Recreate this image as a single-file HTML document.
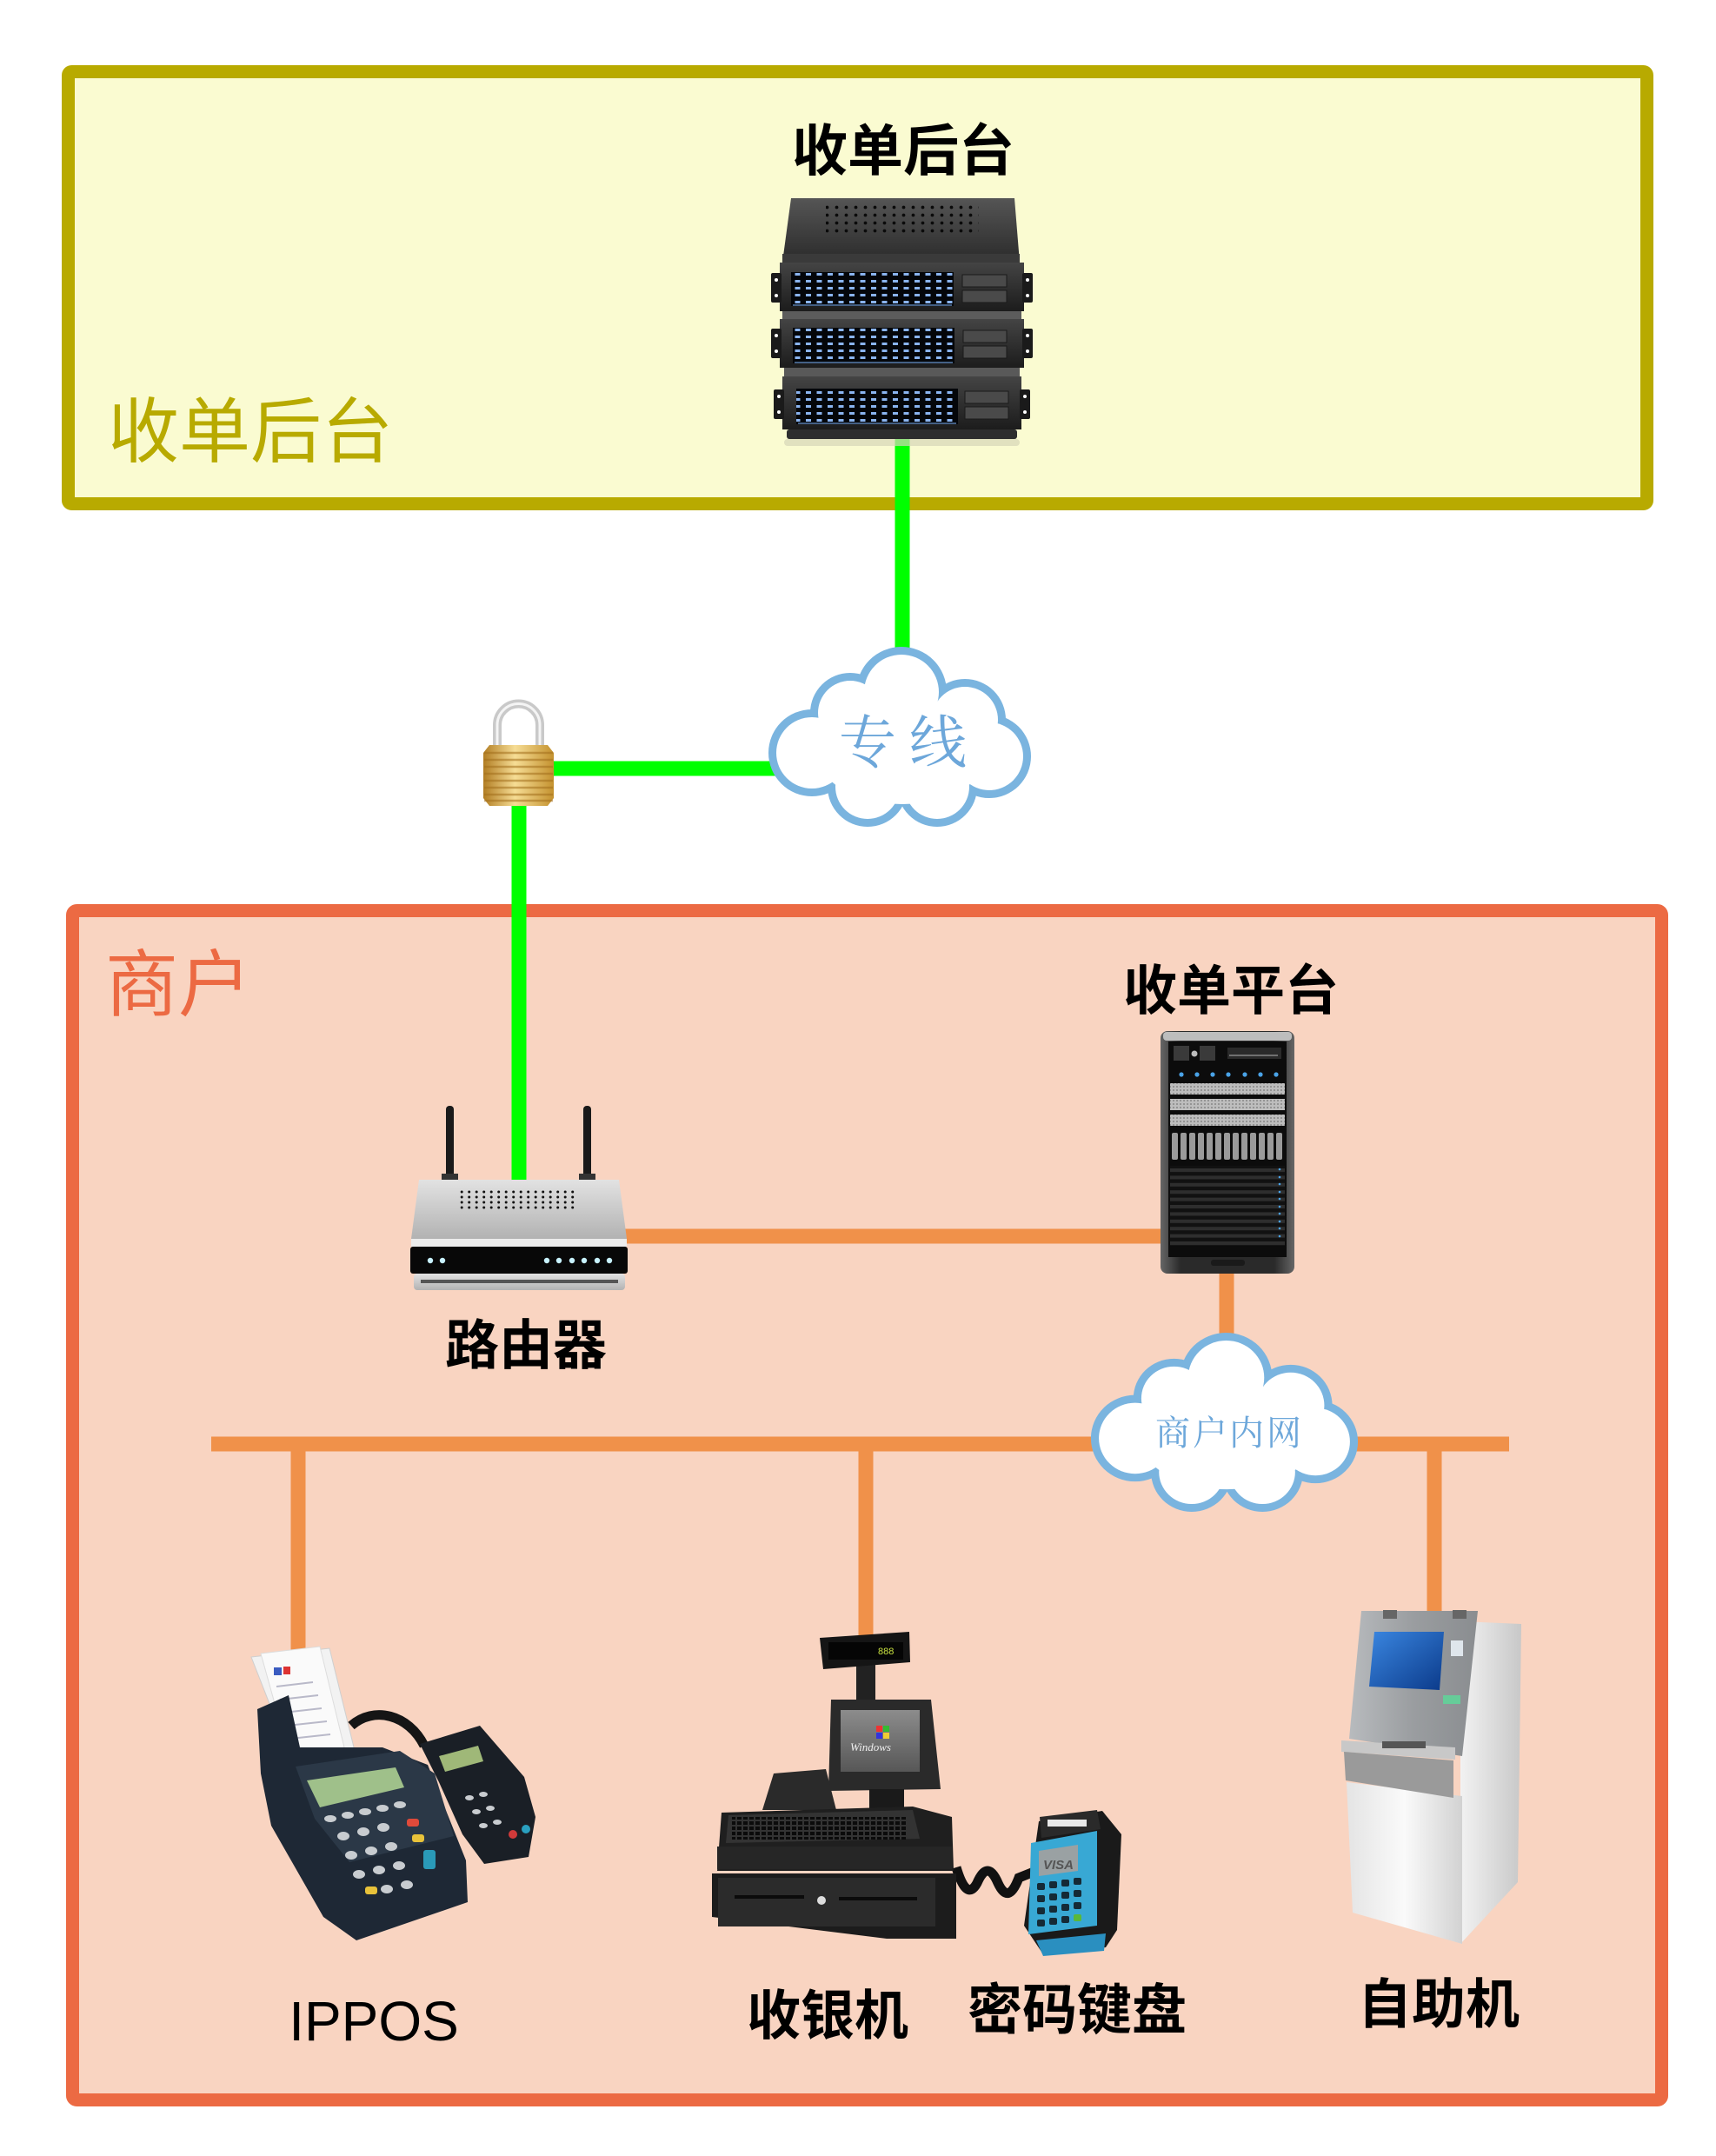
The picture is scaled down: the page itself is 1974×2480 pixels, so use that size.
<!DOCTYPE html>
<html><head><meta charset="utf-8">
<style>html,body{margin:0;padding:0;background:#fff}svg{display:block}</style>
</head><body>
<svg width="1974" height="2480" viewBox="0 0 1974 2480" xmlns="http://www.w3.org/2000/svg">
<defs>
  <linearGradient id="gTop" x1="0" y1="0" x2="0" y2="1"><stop offset="0" stop-color="#555"/><stop offset="1" stop-color="#2a2a2a"/></linearGradient>
  <linearGradient id="gUnit" x1="0" y1="0" x2="0" y2="1"><stop offset="0" stop-color="#444"/><stop offset="1" stop-color="#1c1c1c"/></linearGradient>
  <linearGradient id="gSil" x1="0" y1="0" x2="0" y2="1"><stop offset="0" stop-color="#e2e2e2"/><stop offset="1" stop-color="#b2b2b2"/></linearGradient>
  <linearGradient id="gTower" x1="0" y1="0" x2="1" y2="0"><stop offset="0" stop-color="#666"/><stop offset=".15" stop-color="#2a2a2a"/><stop offset=".85" stop-color="#2a2a2a"/><stop offset="1" stop-color="#666"/></linearGradient>
  <linearGradient id="gGold" x1="0" y1="0" x2="1" y2="0"><stop offset="0" stop-color="#b27e24"/><stop offset=".45" stop-color="#f6dd95"/><stop offset="1" stop-color="#c4922f"/></linearGradient>
  <linearGradient id="gAtmF" x1="0" y1="0" x2="1" y2="0"><stop offset="0" stop-color="#e4e4e4"/><stop offset=".5" stop-color="#fafafa"/><stop offset="1" stop-color="#d2d2d2"/></linearGradient>
  <linearGradient id="gAtmS" x1="0" y1="0" x2="1" y2="0"><stop offset="0" stop-color="#f2f2f2"/><stop offset="1" stop-color="#c8c8c8"/></linearGradient>
  <linearGradient id="gAtmH" x1="0" y1="0" x2="1" y2="0"><stop offset="0" stop-color="#b8bbbe"/><stop offset=".5" stop-color="#9a9da0"/><stop offset="1" stop-color="#8a8d90"/></linearGradient>
  <linearGradient id="gScr" x1="0" y1="0" x2="1" y2="1"><stop offset="0" stop-color="#3a86e0"/><stop offset="1" stop-color="#0b3a8a"/></linearGradient>
  <linearGradient id="gMon" x1="0" y1="0" x2="0" y2="1"><stop offset="0" stop-color="#8c8c8c"/><stop offset="1" stop-color="#575757"/></linearGradient>
  <pattern id="bd" width="12.5" height="8" patternUnits="userSpaceOnUse"><rect x="2" y="2" width="6" height="3" fill="#8ab4f0"/></pattern>
  <pattern id="gd" width="11" height="9" patternUnits="userSpaceOnUse"><circle cx="5.5" cy="4.5" r="1.9" fill="#0a0a0a"/></pattern>
  <pattern id="rg" width="8.5" height="6" patternUnits="userSpaceOnUse"><circle cx="4.2" cy="3" r="1.5" fill="#111"/></pattern>
  <pattern id="kp" width="7" height="6" patternUnits="userSpaceOnUse"><rect x="1" y="1" width="5" height="4" fill="#0b0b0b"/></pattern>
  <pattern id="slat" width="10" height="8.4" patternUnits="userSpaceOnUse"><rect x="0" y="0" width="10" height="4.2" fill="#2e2e2e"/><rect x="0" y="4.2" width="10" height="4.2" fill="#111"/></pattern>
  <pattern id="sbar" width="4" height="4" patternUnits="userSpaceOnUse"><rect width="4" height="4" fill="#bdbdbd"/><circle cx="2" cy="2" r="0.9" fill="#777"/></pattern>
  <g id="cloudShape">
    <g fill="#7AB4DF">
      <circle cx="149" cy="48" r="52"/><circle cx="90" cy="72" r="46"/><circle cx="222" cy="80" r="47"/>
      <circle cx="46" cy="118" r="50"/><circle cx="250" cy="122" r="48"/><circle cx="110" cy="157" r="46"/><circle cx="190" cy="157" r="46"/>
    </g>
    <g fill="#fff">
      <circle cx="149" cy="48" r="43"/><circle cx="90" cy="72" r="37"/><circle cx="222" cy="80" r="38"/>
      <circle cx="46" cy="118" r="41"/><circle cx="250" cy="122" r="39"/><circle cx="110" cy="157" r="37"/><circle cx="190" cy="157" r="37"/>
      <ellipse cx="150" cy="115" rx="100" ry="62"/>
    </g>
  </g>
</defs>

<!-- containers -->
<rect x="78.5" y="82.5" width="1816" height="497" rx="4" fill="#FAFBD1" stroke="#B8AA00" stroke-width="15"/>
<rect x="83.5" y="1047.5" width="1828" height="1368" rx="5" fill="#F9D4C1" stroke="#EC6A43" stroke-width="15"/>

<!-- green links -->
<g stroke="#00FF00" stroke-width="17" fill="none">
  <line x1="1038" y1="498" x2="1038" y2="770"/>
  <line x1="628" y1="884" x2="900" y2="884"/>
  <line x1="597" y1="915" x2="597" y2="1362"/>
</g>
<!-- orange links -->
<g stroke="#F0914A" stroke-width="17" fill="none">
  <line x1="715" y1="1422" x2="1340" y2="1422"/>
  <line x1="1411" y1="1460" x2="1411" y2="1550"/>
  <line x1="243" y1="1661" x2="1736" y2="1661"/>
  <line x1="343" y1="1661" x2="343" y2="1905"/>
  <line x1="996" y1="1661" x2="996" y2="1885"/>
  <line x1="1650" y1="1661" x2="1650" y2="1858"/>
</g>

<!-- server stack -->
<g>
  <polygon points="910,228 1167,228 1173,302 900,302" fill="url(#gTop)"/>
  <rect x="950" y="236" width="176" height="36" fill="url(#gd)"/>
  <rect x="900" y="292" width="273" height="10" fill="#3a3a3a"/>
  <rect x="897" y="302" width="281" height="56" fill="url(#gUnit)"/>
  <rect x="887" y="314" width="12" height="34" rx="2" fill="#1a1a1a"/><circle cx="893" cy="322" r="2" fill="#fff"/><circle cx="893" cy="340" r="2" fill="#fff"/>
  <rect x="1176" y="314" width="12" height="34" rx="2" fill="#1a1a1a"/><circle cx="1182" cy="322" r="2" fill="#fff"/><circle cx="1182" cy="340" r="2" fill="#fff"/>
  <rect x="910" y="313" width="187" height="39" fill="#04060a"/><rect x="910" y="313" width="187" height="38" fill="url(#bd)"/>
  <line x1="912" y1="351" x2="1095" y2="351" stroke="#5a7fae" stroke-width="1.5"/>
  <rect x="1107" y="316" width="51" height="14" fill="#4a4a4a" stroke="#1a1a1a"/><rect x="1107" y="334" width="51" height="14" fill="#4a4a4a" stroke="#1a1a1a"/>
  <rect x="900" y="358" width="275" height="9" fill="#5c5c5c"/>
  <rect x="897" y="367" width="281" height="56" fill="url(#gUnit)"/>
  <rect x="887" y="378" width="12" height="34" rx="2" fill="#1a1a1a"/><circle cx="893" cy="386" r="2" fill="#fff"/><circle cx="893" cy="404" r="2" fill="#fff"/>
  <rect x="1176" y="378" width="12" height="34" rx="2" fill="#1a1a1a"/><circle cx="1182" cy="386" r="2" fill="#fff"/><circle cx="1182" cy="404" r="2" fill="#fff"/>
  <rect x="912" y="377" width="186" height="41" fill="#04060a"/><rect x="912" y="377" width="186" height="40" fill="url(#bd)"/>
  <line x1="914" y1="417" x2="1096" y2="417" stroke="#5a7fae" stroke-width="1.5"/>
  <rect x="1108" y="380" width="50" height="14" fill="#4a4a4a" stroke="#1a1a1a"/><rect x="1108" y="398" width="50" height="14" fill="#4a4a4a" stroke="#1a1a1a"/>
  <rect x="902" y="423" width="271" height="10" fill="#595959"/>
  <rect x="900" y="433" width="275" height="61" fill="url(#gUnit)"/>
  <rect x="890" y="448" width="12" height="34" rx="2" fill="#1a1a1a"/><circle cx="896" cy="456" r="2" fill="#fff"/><circle cx="896" cy="474" r="2" fill="#fff"/>
  <rect x="1173" y="448" width="12" height="34" rx="2" fill="#1a1a1a"/><circle cx="1179" cy="456" r="2" fill="#fff"/><circle cx="1179" cy="474" r="2" fill="#fff"/>
  <rect x="916" y="447" width="186" height="41" fill="#04060a"/><rect x="916" y="447" width="186" height="40" fill="url(#bd)"/>
  <line x1="918" y1="487" x2="1100" y2="487" stroke="#5a7fae" stroke-width="1.5"/>
  <rect x="1110" y="450" width="50" height="14" fill="#4a4a4a" stroke="#1a1a1a"/><rect x="1110" y="468" width="50" height="14" fill="#4a4a4a" stroke="#1a1a1a"/>
  <rect x="905" y="494" width="265" height="11" rx="3" fill="#2e2e2e"/>
  <rect x="902" y="505" width="271" height="8" rx="4" fill="#d6d6b8" opacity=".7"/>
</g>

<!-- lock -->
<g>
  <path d="M572 862 V834 A24.5 24.5 0 0 1 621 834 V862" fill="none" stroke="#c9c9c9" stroke-width="10"/>
  <path d="M572 862 V834 A24.5 24.5 0 0 1 621 834 V862" fill="none" stroke="#f4f4f4" stroke-width="3"/>
  <polygon points="563,857 630,857 637,866 637,918 630,927 563,927 556,918 556,866" fill="url(#gGold)"/>
  <g stroke="#a36f1c" stroke-width="2.5" opacity=".55">
    <line x1="557" y1="866" x2="636" y2="866"/><line x1="557" y1="874" x2="636" y2="874"/><line x1="557" y1="882" x2="636" y2="882"/>
    <line x1="557" y1="890" x2="636" y2="890"/><line x1="557" y1="898" x2="636" y2="898"/><line x1="557" y1="906" x2="636" y2="906"/>
    <line x1="557" y1="914" x2="636" y2="914"/><line x1="557" y1="921" x2="636" y2="921"/>
  </g>
</g>

<!-- router -->
<g>
  <rect x="513" y="1272" width="9" height="88" rx="4" fill="#1a1a1a"/>
  <rect x="671" y="1272" width="9" height="88" rx="4" fill="#1a1a1a"/>
  <rect x="508" y="1350" width="19" height="9" fill="#333"/><rect x="666" y="1350" width="19" height="9" fill="#333"/>
  <polygon points="482,1357 712,1357 721,1425 473,1425" fill="url(#gSil)"/>
  <rect x="529" y="1368" width="136" height="24" fill="url(#rg)"/>
  <rect x="473" y="1425" width="248" height="9" fill="#ececec"/>
  <rect x="472" y="1434" width="250" height="31" rx="3" fill="#080808"/>
  <g fill="#c8f2ff"><circle cx="495" cy="1450" r="3.2"/><circle cx="509" cy="1450" r="3.2"/><circle cx="629" cy="1450" r="3.2"/><circle cx="643" cy="1450" r="3.2"/><circle cx="658" cy="1450" r="3.2"/><circle cx="672" cy="1450" r="3.2"/><circle cx="687" cy="1450" r="3.2"/><circle cx="701" cy="1450" r="3.2"/></g>
  <rect x="476" y="1465" width="243" height="19" rx="4" fill="url(#gSil)"/>
  <rect x="484" y="1472" width="227" height="4" fill="#555"/>
</g>

<!-- tower server -->
<g>
  <rect x="1335" y="1186" width="154" height="279" rx="8" fill="url(#gTower)"/>
  <rect x="1338" y="1187" width="148" height="10" rx="4" fill="#bdbdbd"/>
  <rect x="1344" y="1198" width="136" height="248" fill="#0c0c0c"/>
  <rect x="1350" y="1203" width="18" height="17" fill="#3a3a3a"/><circle cx="1374" cy="1212" r="3.5" fill="#bbb"/><rect x="1380" y="1203" width="18" height="17" fill="#3a3a3a"/>
  <rect x="1412" y="1205" width="62" height="13" fill="#2a2a2a"/><line x1="1414" y1="1214" x2="1470" y2="1214" stroke="#888" stroke-width="1.5"/>
  <g fill="#4aa3e8"><circle cx="1359" cy="1236" r="2.6"/><circle cx="1377" cy="1236" r="2.6"/><circle cx="1395" cy="1236" r="2.6"/><circle cx="1413" cy="1236" r="2.6"/><circle cx="1432" cy="1236" r="2.6"/><circle cx="1450" cy="1236" r="2.6"/><circle cx="1468" cy="1236" r="2.6"/></g>
  <rect x="1346" y="1246" width="132" height="13" fill="url(#sbar)"/><rect x="1346" y="1264" width="132" height="13" fill="url(#sbar)"/><rect x="1346" y="1282" width="132" height="13" fill="url(#sbar)"/>
  <g fill="#9a9a9a">
    <rect x="1348" y="1303" width="7" height="31" rx="2"/><rect x="1358" y="1303" width="7" height="31" rx="2"/><rect x="1368" y="1303" width="7" height="31" rx="2"/><rect x="1378" y="1303" width="7" height="31" rx="2"/><rect x="1388" y="1303" width="7" height="31" rx="2"/><rect x="1398" y="1303" width="7" height="31" rx="2"/><rect x="1408" y="1303" width="7" height="31" rx="2"/><rect x="1418" y="1303" width="7" height="31" rx="2"/><rect x="1428" y="1303" width="7" height="31" rx="2"/><rect x="1438" y="1303" width="7" height="31" rx="2"/><rect x="1448" y="1303" width="7" height="31" rx="2"/><rect x="1458" y="1303" width="7" height="31" rx="2"/><rect x="1468" y="1303" width="7" height="31" rx="2"/>
  </g>
  <rect x="1346" y="1341" width="132" height="92" fill="url(#slat)"/>
  <g fill="#4aa3e8"><circle cx="1472" cy="1345" r="1.3"/><circle cx="1472" cy="1354" r="1.3"/><circle cx="1472" cy="1362" r="1.3"/><circle cx="1472" cy="1371" r="1.3"/><circle cx="1472" cy="1379" r="1.3"/><circle cx="1472" cy="1388" r="1.3"/><circle cx="1472" cy="1396" r="1.3"/><circle cx="1472" cy="1405" r="1.3"/><circle cx="1472" cy="1413" r="1.3"/><circle cx="1472" cy="1422" r="1.3"/></g>
  <rect x="1393" y="1449" width="39" height="7" rx="3" fill="#1a1a1a"/>
</g>

<!-- IPPOS -->
<g>
  <polygon points="289,1906 379,1896 412,2030 343,2044" fill="#f2f2f2" stroke="#cfcfcf"/>
  <polygon points="300,1902 368,1894 396,2010 334,2024" fill="#fafafa" stroke="#ddd"/>
  <rect x="315" y="1918" width="9" height="9" fill="#3a5bc0"/><rect x="326" y="1917" width="8" height="9" fill="#d33"/>
  <g stroke="#b9b9c9" stroke-width="2"><line x1="318" y1="1940" x2="360" y2="1935"/><line x1="322" y1="1955" x2="366" y2="1950"/><line x1="326" y1="1970" x2="370" y2="1965"/><line x1="330" y1="1985" x2="376" y2="1980"/><line x1="334" y1="2000" x2="380" y2="1995"/></g>
  <path d="M404 1985 C430 1962 470 1972 488 2008" fill="none" stroke="#151515" stroke-width="11"/>
  <polygon points="483,2006 552,1985 603,2044 616,2090 608,2136 557,2144 532,2110 505,2050" fill="#1a1f26"/>
  <polygon points="505,2020 550,2008 556,2026 512,2038" fill="#9fb878"/>
  <g fill="#c9ccd0"><ellipse cx="540" cy="2068" rx="5" ry="3"/><ellipse cx="556" cy="2064" rx="5" ry="3"/><ellipse cx="548" cy="2084" rx="5" ry="3"/><ellipse cx="564" cy="2080" rx="5" ry="3"/><ellipse cx="556" cy="2100" rx="5" ry="3"/><ellipse cx="572" cy="2096" rx="5" ry="3"/></g>
  <circle cx="590" cy="2110" r="5" fill="#d03a3a"/><circle cx="605" cy="2104" r="5" fill="#2aa0c0"/>
  <polygon points="296,1966 332,1950 345,2010 440,2010 492,2030 536,2140 538,2188 410,2232 372,2205 312,2100 300,2040" fill="#1e2835"/>
  <polygon points="340,2032 460,2014 500,2040 522,2112 402,2142 362,2092" fill="#2b3847"/>
  <polygon points="353,2048 455,2033 465,2056 368,2079" fill="#9fc08a"/>
  <g fill="#c8ccd0">
    <ellipse cx="380" cy="2092" rx="7" ry="4"/><ellipse cx="400" cy="2088" rx="7" ry="4"/><ellipse cx="420" cy="2084" rx="7" ry="4"/><ellipse cx="440" cy="2080" rx="7" ry="4"/><ellipse cx="460" cy="2076" rx="7" ry="4"/>
    <ellipse cx="395" cy="2112" rx="7" ry="5"/><ellipse cx="418" cy="2107" rx="7" ry="5"/><ellipse cx="441" cy="2102" rx="7" ry="5"/>
    <ellipse cx="404" cy="2134" rx="7" ry="5"/><ellipse cx="427" cy="2129" rx="7" ry="5"/><ellipse cx="450" cy="2124" rx="7" ry="5"/>
    <ellipse cx="413" cy="2156" rx="7" ry="5"/><ellipse cx="436" cy="2151" rx="7" ry="5"/><ellipse cx="459" cy="2146" rx="7" ry="5"/>
    <ellipse cx="445" cy="2173" rx="7" ry="5"/><ellipse cx="468" cy="2168" rx="7" ry="5"/>
  </g>
  <rect x="468" y="2092" width="14" height="9" rx="3" fill="#e04a3a"/><rect x="474" y="2110" width="14" height="9" rx="3" fill="#e8c23a"/>
  <rect x="487" y="2128" width="14" height="22" rx="3" fill="#2a9ab8"/><rect x="420" y="2170" width="14" height="9" rx="3" fill="#e8c23a"/>
</g>

<!-- cash register -->
<g>
  <path d="M1100 2148 Q1112 2188 1124 2166 Q1136 2138 1148 2166 Q1160 2192 1172 2160 L1192 2152" fill="none" stroke="#111" stroke-width="11"/>
  <rect x="985" y="1915" width="22" height="45" fill="#222"/>
  <polygon points="943,1884 1046,1877 1047,1912 947,1920" fill="#151515"/>
  <rect x="953" y="1889" width="86" height="20" fill="#050505"/>
  <text x="1010" y="1903" font-family="Liberation Sans, sans-serif" font-size="11" fill="#c8e040">888</text>
  <polygon points="956,1955 1071,1955 1082,2058 953,2060" fill="#2a2a2a"/>
  <rect x="967" y="1967" width="91" height="71" fill="url(#gMon)"/>
  <rect x="1008" y="1985" width="7" height="7" fill="#e33"/><rect x="1016" y="1985" width="7" height="7" fill="#3b3"/><rect x="1008" y="1993" width="7" height="7" fill="#33d"/><rect x="1016" y="1993" width="7" height="7" fill="#ec3"/>
  <text x="978" y="2014" font-family="Liberation Serif, serif" font-style="italic" font-size="13" fill="#eee">Windows</text>
  <rect x="1000" y="2058" width="40" height="22" fill="#1a1a1a"/>
  <polygon points="877,2082 890,2040 950,2035 962,2082" fill="#2a2a2a"/>
  <polygon points="830,2085 1050,2078 1095,2090 1097,2152 825,2152" fill="#1f1f1f"/>
  <polygon points="838,2088 1050,2082 1058,2115 835,2120" fill="#333"/>
  <rect x="842" y="2090" width="200" height="26" fill="url(#kp)"/>
  <rect x="825" y="2124" width="270" height="26" fill="#262626"/>
  <polygon points="819,2155 1100,2155 1100,2230 1020,2230 819,2205" fill="#1c1c1c"/>
  <rect x="826" y="2160" width="250" height="56" fill="#2b2b2b"/>
  <rect x="845" y="2180" width="80" height="4" fill="#0b0b0b"/><rect x="965" y="2182" width="90" height="4" fill="#0b0b0b"/>
  <circle cx="945" cy="2186" r="5" fill="#ddd"/>
</g>

<!-- PIN pad -->
<g>
  <polygon points="1195,2095 1268,2083 1290,2110 1285,2220 1272,2240 1200,2248 1178,2215" fill="#1a1a1a"/>
  <polygon points="1186,2120 1262,2106 1262,2215 1183,2225" fill="#38a8d4"/>
  <polygon points="1196,2090 1262,2082 1266,2104 1198,2114" fill="#2a2a2a"/>
  <rect x="1205" y="2093" width="45" height="8" fill="#e8e8e8"/>
  <polygon points="1195,2129 1240,2122 1240,2152 1195,2158" fill="#9aa1a3"/>
  <text x="1200" y="2150" font-family="Liberation Sans, sans-serif" font-style="italic" font-weight="bold" font-size="15" fill="#555">VISA</text>
  <g fill="#152a36">
    <rect x="1193" y="2166" width="9" height="8" rx="2"/><rect x="1207" y="2164" width="9" height="8" rx="2"/><rect x="1221" y="2162" width="9" height="8" rx="2"/><rect x="1235" y="2160" width="9" height="8" rx="2"/>
    <rect x="1193" y="2180" width="9" height="8" rx="2"/><rect x="1207" y="2178" width="9" height="8" rx="2"/><rect x="1221" y="2176" width="9" height="8" rx="2"/><rect x="1235" y="2174" width="9" height="8" rx="2"/>
    <rect x="1193" y="2194" width="9" height="8" rx="2"/><rect x="1207" y="2192" width="9" height="8" rx="2"/><rect x="1221" y="2190" width="9" height="8" rx="2"/><rect x="1235" y="2188" width="9" height="8" rx="2"/>
    <rect x="1193" y="2208" width="9" height="8" rx="2"/><rect x="1207" y="2206" width="9" height="8" rx="2"/><rect x="1221" y="2204" width="9" height="8" rx="2"/>
  </g>
  <rect x="1235" y="2202" width="9" height="8" rx="2" fill="#5ab83a"/>
  <polygon points="1192,2232 1272,2224 1270,2244 1200,2250" fill="#2a8fc0"/>
</g>

<!-- ATM -->
<g>
  <polygon points="1680,1865 1750,1868 1746,2165 1680,2236" fill="url(#gAtmS)"/>
  <polygon points="1549,2050 1682,2066 1682,2236 1556,2200" fill="url(#gAtmF)"/>
  <polygon points="1566,1853 1700,1853 1682,2020 1552,2000" fill="url(#gAtmH)"/>
  <rect x="1591" y="1852" width="16" height="10" fill="#666"/><rect x="1671" y="1852" width="16" height="10" fill="#666"/>
  <polygon points="1581,1877 1661,1877 1656,1944 1575,1940" fill="url(#gScr)"/>
  <rect x="1669" y="1887" width="14" height="18" fill="#dfe6ec"/>
  <rect x="1660" y="1950" width="20" height="10" fill="#6c9"/>
  <polygon points="1543,2002 1674,2010 1674,2024 1543,2015" fill="#c8c8c8"/>
  <rect x="1590" y="2003" width="50" height="8" fill="#555"/>
  <polygon points="1546,2015 1672,2025 1672,2068 1548,2048" fill="#9a9a9a"/>
</g>

<!-- clouds -->
<use href="#cloudShape" transform="translate(888,748)"/>
<use href="#cloudShape" transform="translate(1259,1537) scale(1.017,0.995)"/>

<!-- text -->
<g font-family="'Liberation Sans','Noto Sans CJK SC',sans-serif" text-anchor="middle">
  <text x="1039" y="196" font-size="64" font-weight="bold" fill="#000">收单后台</text>
  <text x="288" y="525" font-size="82" fill="#B8AA00">收单后台</text>
  <text x="205" y="1162" font-size="84" fill="#EC6A43">商户</text>
  <text x="1416" y="1161" font-size="62" font-weight="bold" fill="#000">收单平台</text>
  <text x="605" y="1569" font-size="62" font-weight="bold" fill="#000">路由器</text>
  <text x="430" y="2347" font-size="64" fill="#000">IPPOS</text>
  <text x="952" y="2340" font-size="62" font-weight="bold" fill="#000">收银机</text>
  <text x="1239" y="2334" font-size="63" font-weight="bold" fill="#000">密码键盘</text>
  <text x="1655" y="2327" font-size="62" font-weight="bold" fill="#000">自助机</text>
</g>
<g font-family="'Noto Serif CJK SC','Noto Sans CJK SC',serif" text-anchor="middle" fill="#6DA7DA">
  <text x="998" y="877" font-size="66">专</text>
  <text x="1079" y="877" font-size="66">线</text>
  <text x="1349" y="1662" font-size="40">商</text>
  <text x="1392" y="1662" font-size="40">户</text>
  <text x="1434" y="1662" font-size="40">内</text>
  <text x="1477" y="1662" font-size="40">网</text>
</g>
</svg>
</body></html>
